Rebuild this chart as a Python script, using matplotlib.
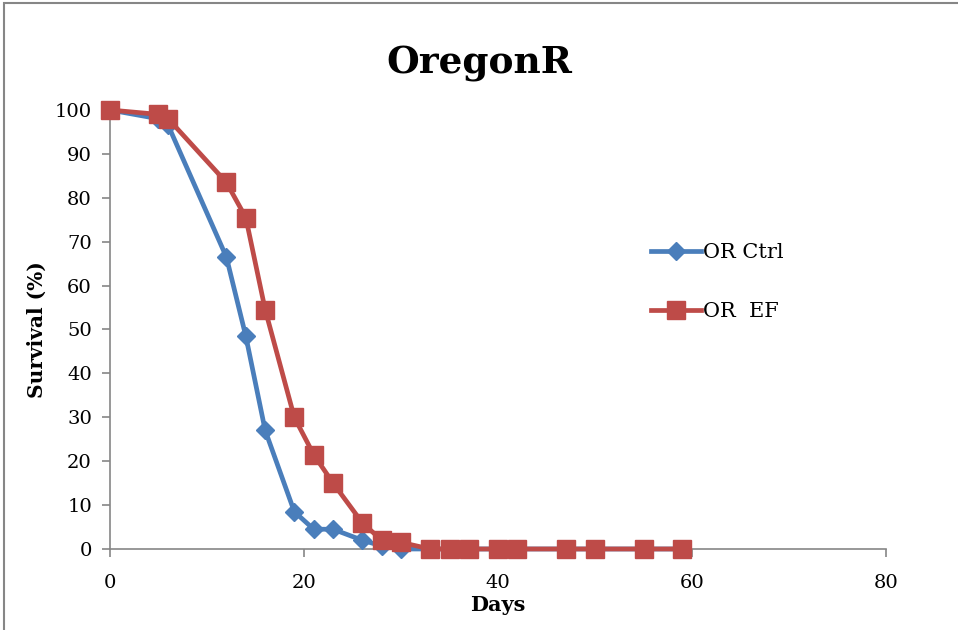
import matplotlib
matplotlib.use("Agg")
import matplotlib.pyplot as plt
from matplotlib.patches import Rectangle

# 데이터
ctrl_days = [0, 5, 6, 12, 14, 16, 19, 21, 23, 26, 28, 30, 33, 35, 37, 40, 42, 47, 50, 55, 59]
ctrl_surv = [100, 98, 96.5, 66.5, 48.5, 27, 8.5, 4.5, 4.5, 2, 0.7, 0, 0, 0, 0, 0, 0, 0, 0, 0, 0]
ef_days = [0, 5, 6, 12, 14, 16, 19, 21, 23, 26, 28, 30, 33, 35, 37, 40, 42, 47, 50, 55, 59]
ef_surv = [100, 99, 98, 83.5, 75.5, 54.5, 30, 21.5, 15, 6, 2, 1.5, 0, 0, 0, 0, 0, 0, 0, 0, 0]
x_ticks = [0, 20, 40, 60, 80]
y_ticks = list(range(0, 101, 10))

plt.rcParams["font.family"] = ["DejaVu Serif"]

fig = plt.figure(figsize=(9.58, 6.3), dpi=100)
ax = fig.add_axes([0.1148, 0.1286, 0.8101, 0.6968])

ax.plot(ctrl_days, ctrl_surv, "-D", color="#4a7ebb", linewidth=3.4, markersize=9,
        label="OR Ctrl", zorder=3)
ax.plot(ef_days, ef_surv, "-s", color="#be4b48", linewidth=3.4, markersize=13,
        label="OR  EF", zorder=4)

ax.set_xlim(0, 80)
ax.set_ylim(0, 100)
ax.set_xticks(x_ticks)
ax.set_yticks(y_ticks)
ax.tick_params(axis="both", labelsize=14, color="#868686", length=6, width=1.2)
ax.tick_params(axis="x", pad=12)
ax.tick_params(axis="y", pad=7)
for side in ["top", "right"]:
    ax.spines[side].set_visible(False)
for side in ["left", "bottom"]:
    ax.spines[side].set_color("#868686")
    ax.spines[side].set_linewidth(1.2)
for ln in ax.lines:
    ln.set_clip_on(False)

ax.set_xlabel("Days", fontsize=15, fontweight="bold", labelpad=2)
ax.set_ylabel("Survival (%)", fontsize=14.5, fontweight="bold", labelpad=6)
fig.text(0.5, 0.9, "OregonR", ha="center", va="center", fontsize=27, fontweight="bold")

ax.legend(loc="center left", bbox_to_anchor=(0.673, 0.608), frameon=False, fontsize=15,
          handlelength=2.4, labelspacing=1.9, handletextpad=0.1)

# 바깥 테두리
fig.patches.append(Rectangle((0.004, -0.01), 1.1, 1.006, transform=fig.transFigure,
                             fill=False, edgecolor="#868686", linewidth=1.5))

fig.savefig("out.png", dpi=100)
